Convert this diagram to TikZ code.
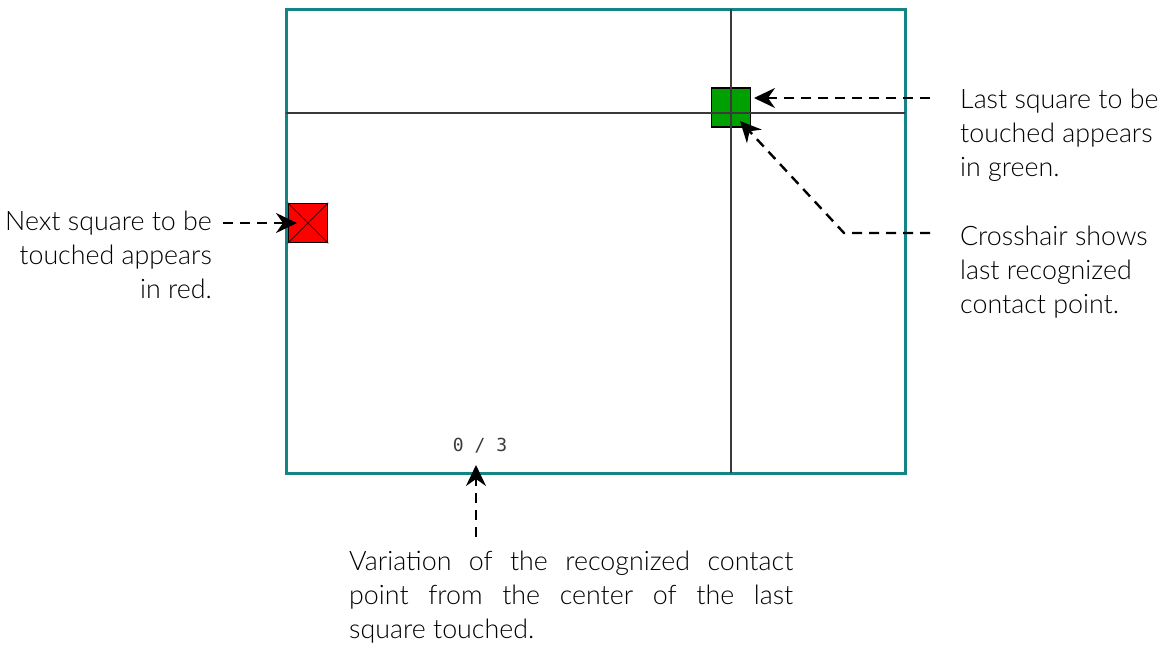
\documentclass[tikz,border=0pt]{standalone}
\usepackage{fontspec}
\setmainfont{Lato}[UprightFont=* Light]
\setmonofont{DejaVu Sans Mono}
\usetikzlibrary{arrows.meta}
\definecolor{frameteal}{HTML}{138585}
\definecolor{sqgreen}{HTML}{00A000}
\definecolor{crossgray}{HTML}{3A3A3A}
\begin{document}
\begin{tikzpicture}[x=1pt,y=-1pt,
  lbl/.style={inner sep=0pt, font=\fontsize{26.8}{34}\selectfont, text=black},
  pointer/.style={line width=2.4pt, dash pattern=on 10pt off 7pt, -{Stealth[length=21pt,width=20pt,inset=7pt]}},
  square/.style={draw=black, line width=1.5pt, minimum size=39pt, inner sep=0pt},
  hair/.style={draw=crossgray, line width=1.6pt}]
\useasboundingbox (0,0) rectangle (1171,646);
% frame
\node[draw=frameteal, line width=3pt, minimum width=619pt, minimum height=464pt, inner sep=0pt] (frame) at (595.5,241) {};
% squares
\node[square, fill=sqgreen] (green) at (731,107.5) {};
\node[square, fill=red] (red) at (308,223) {};
\draw[line width=1pt, draw=black!70!red] (red.north west) -- (red.south east) (red.north east) -- (red.south west);
% crosshair (drawn over the green square)
\draw[hair] (731,9) -- (731,473);
\draw[hair] (286,113) -- (905,113);
% counter
\node[font=\ttfamily\fontsize{18}{20}\selectfont, text=crossgray, inner sep=0pt] (count) at (480,446) {0 / 3};
% labels
\node[lbl, anchor=north west, align=left] (lastlbl) at (960,89) {Last square to be\\touched appears\\in green.};
\node[lbl, anchor=north west, align=left] (crosslbl) at (960,226) {Crosshair shows\\last recognized\\contact point.};
\node[lbl, anchor=north east, align=right] (nextlbl) at (212,211) {Next square to be\\touched appears\\in red.};
\node[lbl, anchor=north west, align=left] (varlbl) at (349,551) {\makebox[444pt][s]{Variation of the recognized contact}\\\makebox[444pt][s]{point from the center of the last}\\square touched.};
% connectors
\coordinate (c1) at (930,98);
\coordinate (c2) at (930,233);
\coordinate (c2b) at (844,233);
\coordinate (c3) at (223,223);
\coordinate (c4) at (476,537);
\draw[pointer] (c1) -- (754,98);
\draw[pointer] (c2) -- (c2b) -- (740,121);
\draw[pointer] (c3) -- (297,223);
\draw[pointer] (c4) -- (476,465);
\end{tikzpicture}
\end{document}
